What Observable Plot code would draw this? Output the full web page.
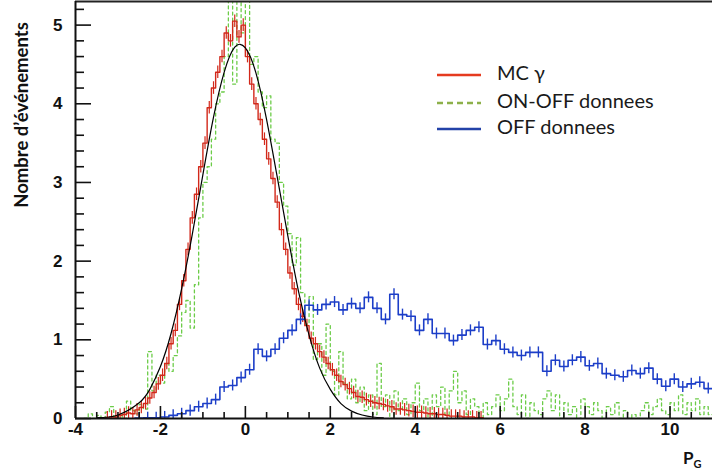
<!DOCTYPE html>
<html><head><meta charset="utf-8">
<script src="https://cdn.jsdelivr.net/npm/d3@7"></script>
<script src="https://cdn.jsdelivr.net/npm/@observablehq/plot@0.6"></script>
<style>
body{margin:0;background:#fff;}
#chart{width:712px;height:476px;}
</style></head><body><div id="chart"></div>
<script>
// ---- data ----
const redStart = -3.3, redStep = 0.1;
const redValues = [0.01,0.02,0.02,0.04,0.05,0.07,0.06,0.11,0.14,0.19,
 0.26,0.33,0.44,0.55,0.70,0.95,1.12,1.45,1.75,2.15,
 2.55,2.85,3.20,3.50,3.95,4.20,4.40,4.60,4.90,4.80,
 5.05,4.85,5.00,4.60,4.25,4.00,3.80,3.55,3.30,3.05,
 2.75,2.40,2.15,1.85,1.65,1.45,1.30,1.18,1.02,0.95,
 0.85,0.78,0.70,0.62,0.55,0.47,0.43,0.38,0.33,0.28,
 0.27,0.24,0.22,0.20,0.19,0.18,0.16,0.15,0.12,0.12,
 0.11,0.10,0.09,0.08,0.08,0.07,0.06,0.06,0.05,0.05,
 0.04,0.03,0.03,0.03,0.02,0.02,0.02,0.01,0.01];
const redErr = 0.08;

const blueStart = -2.6, blueStep = 0.2;
const blueValues = [0.005,0.01,0.01,0.02,0.04,0.06,0.10,0.15,0.19,0.24,
 0.40,0.42,0.52,0.62,0.88,0.79,0.88,1.02,1.12,1.26,
 1.44,1.38,1.45,1.48,1.38,1.46,1.40,1.54,1.40,1.26,
 1.58,1.32,1.30,1.12,1.26,1.08,1.08,0.99,1.06,1.12,
 1.16,0.94,0.99,0.88,0.84,0.80,0.84,0.84,0.60,0.74,
 0.66,0.74,0.78,0.67,0.70,0.57,0.55,0.53,0.61,0.57,
 0.64,0.50,0.41,0.50,0.40,0.44,0.46,0.38];
const blueErr = 0.07;

const greenStart = -3.8, greenStep = 0.1;
const greenValues = [0.00,0.06,0.00,0.04,0.00,0.08,0.15,0.02,0.05,0.00,
 0.22,0.10,0.06,0.18,0.12,0.85,0.35,0.55,0.45,0.70,
 0.60,0.80,1.05,1.35,1.50,1.15,1.70,2.55,3.00,3.20,
 3.55,4.00,4.15,4.60,5.35,4.25,5.40,4.90,5.40,4.50,
 4.60,4.15,3.95,4.10,3.55,3.50,3.00,2.70,2.35,1.95,
 2.30,1.60,1.20,1.55,0.75,0.95,0.55,1.20,0.60,0.30,
 0.85,0.45,0.25,0.50,0.20,0.40,0.10,0.30,0.05,0.70,
 0.15,0.30,0.00,0.35,0.10,0.25,0.05,0.20,0.45,0.10,
 0.25,0.00,0.30,0.15,0.40,0.05,0.35,0.60,0.20,0.35,
 0.05,0.25,0.15,0.00,0.20,0.05,0.15,0.30,0.10,0.25,
 0.50,0.15,0.05,0.30,0.00,0.20,0.10,0.05,0.25,0.35,
 0.10,0.30,0.00,0.20,0.05,0.15,0.00,0.25,0.15,0.05,
 0.20,0.10,0.00,0.15,0.05,0.20,0.00,0.10,0.00,0.05,
 0.00,0.10,0.20,0.05,0.15,0.25,0.10,0.05,0.20,0.10,
 0.30,0.05,0.20,0.10,0.25,0.05,0.15,0.05];

const fitX = [-3.5,-3,-2.5,-2.25,-2,-1.75,-1.5,-1.25,-1,-0.75,-0.5,-0.25,0,0.25,0.5,0.75,1,1.25,1.5,1.75,2,2.25,2.5,2.75,3,3.25];
const fitY = [0.01,0.045,0.20,0.37,0.66,1.08,1.65,2.34,3.10,3.83,4.40,4.72,4.71,4.39,3.80,3.07,2.32,1.62,1.06,0.64,0.37,0.19,0.094,0.044,0.019,0.007];

const xTicks = [-4,-2,0,2,4,6,8,10];
const xTickLabels = ["-4","-2","0","2","4","6","8","10"];
const yTicks = [0,1,2,3,4,5];
const yTickLabels = ["0","1","2","3","4","5"];
const seriesNames = ["MC \u03b3","ON-OFF donnees","OFF donnees"];
const yTitle = "Nombre d\u2019\u00e9v\u00e9nements";
// ---------------------------------------

const W = 712, H = 476, mL = 75, mR = 0, mT = 1, mB = 58;
const plotW = W - mL - mR, plotH = H - mT - mB;
const xDomain = [-4, 11], yDomain = [0, 5.3];
const RED = "#d2281a", GREEN = "#6ccc48", BLUE = "#1c3ec8";

function bins(start, step, values) {
  return values.map((v, i) => ({x0: start + i*step, x1: start + (i+1)*step, xc: start + (i+0.5)*step, y: v}));
}
function steps(b) {
  const pts = b.map(d => ({x: d.x0, y: d.y}));
  const last = b[b.length-1];
  pts.push({x: last.x1, y: last.y});
  return pts;
}
const redBins = bins(redStart, redStep, redValues);
const blueBins = bins(blueStart, blueStep, blueValues);
const greenBins = bins(greenStart, greenStep, greenValues);
const fit = fitX.map((x, i) => ({x, y: fitY[i]}));

const xMinor = d3.range(-3.5, 11, 0.5).filter(v => !xTicks.includes(v));
const yMinor = d3.range(0, 5.3, 0.2).map(v => +v.toFixed(1)).filter(v => !yTicks.includes(v));

const svg = Plot.plot({
  width: W, height: H, marginLeft: mL, marginRight: mR, marginTop: mT, marginBottom: mB,
  x: {domain: xDomain, axis: null},
  y: {domain: yDomain, axis: null},
  style: {background: "white", fontFamily: "'Liberation Sans', Arial, sans-serif", overflow: "visible"},
  marks: [
    Plot.line(steps(greenBins), {x: "x", y: "y", curve: "step-after", stroke: GREEN, strokeWidth: 1.3, strokeDasharray: "3,3", clip: true}),
    Plot.line(steps(redBins), {x: "x", y: "y", curve: "step-after", stroke: RED, strokeWidth: 1.4, clip: true}),
    Plot.ruleX(redBins, {x: "xc", y1: d => Math.max(0, d.y - redErr), y2: d => d.y + redErr, stroke: RED, strokeWidth: 1.2}),
    Plot.line(steps(blueBins), {x: "x", y: "y", curve: "step-after", stroke: BLUE, strokeWidth: 1.6, clip: true}),
    Plot.ruleX(blueBins, {x: "xc", y1: d => Math.max(0, d.y - blueErr), y2: d => d.y + blueErr, stroke: BLUE, strokeWidth: 1.4}),
    Plot.line(fit, {x: "x", y: "y", curve: "natural", stroke: "black", strokeWidth: 1.2}),
    // frame lines
    Plot.ruleY([0], {stroke: "#111", strokeWidth: 2}),
    Plot.ruleY([yDomain[1]], {stroke: "#222", strokeWidth: 2}),
    Plot.ruleX([xDomain[0]], {stroke: "#111", strokeWidth: 2}),
    // inward ticks
    Plot.ruleX(xTicks, {insetTop: plotH - 12, stroke: "#111", strokeWidth: 1.6}),
    Plot.ruleX(xMinor, {insetTop: plotH - 6, stroke: "#111", strokeWidth: 1.6}),
    Plot.ruleY(yTicks, {insetRight: plotW - 16, stroke: "#111", strokeWidth: 1.6}),
    Plot.ruleY(yMinor, {insetRight: plotW - 9, stroke: "#111", strokeWidth: 1.6}),
    // tick labels
    Plot.text(xTicks, {x: d => d, text: (d, i) => xTickLabels[i], frameAnchor: "bottom", lineAnchor: "top", dy: 4, fontSize: 17, fontWeight: "bold", fill: "#111"}),
    Plot.text(yTicks, {y: d => d, text: (d, i) => yTickLabels[i], frameAnchor: "left", textAnchor: "end", dx: -13, fontSize: 17, fontWeight: "bold", fill: "#111"})
  ]
});
document.getElementById("chart").appendChild(svg);

// extra text: axis titles and legend
const g = d3.select(svg).append("g").attr("text-anchor", "start");
g.append("text").attr("transform", "translate(23,115) rotate(-90)")
  .attr("text-anchor", "middle").attr("dominant-baseline", "middle")
  .style("font-family", "Lato, 'Open Sans', sans-serif").style("font-weight", "bold").style("font-size", "18.5px")
  .attr("fill", "#111").text(yTitle);
const pg = g.append("text").attr("x", 683).attr("y", 464).attr("text-anchor", "start")
  .style("font-family", "Lato, sans-serif").style("font-weight", "bold").style("font-size", "17px").attr("fill", "#111");
pg.append("tspan").text("P");
pg.append("tspan").attr("dy", 4).style("font-size", "11px").text("G");

const legendRows = [
  {name: seriesNames[0], color: "#e53b1f", dash: null, y: 75},
  {name: seriesNames[1], color: "#8db04a", dash: "6,4", y: 103},
  {name: seriesNames[2], color: "#2342a8", dash: null, y: 129}
];
legendRows.forEach(r => {
  g.append("line").attr("x1", 437).attr("x2", 481).attr("y1", r.y).attr("y2", r.y)
    .attr("stroke", r.color).attr("stroke-width", 2.5).attr("stroke-dasharray", r.dash);
  g.append("text").attr("x", 497).attr("y", r.y).attr("dominant-baseline", "middle").attr("text-anchor", "start")
    .style("font-family", "Lato, 'Open Sans', sans-serif").style("font-size", "20px").attr("fill", "#1a1a1a").text(r.name);
});
</script>
</body></html>
